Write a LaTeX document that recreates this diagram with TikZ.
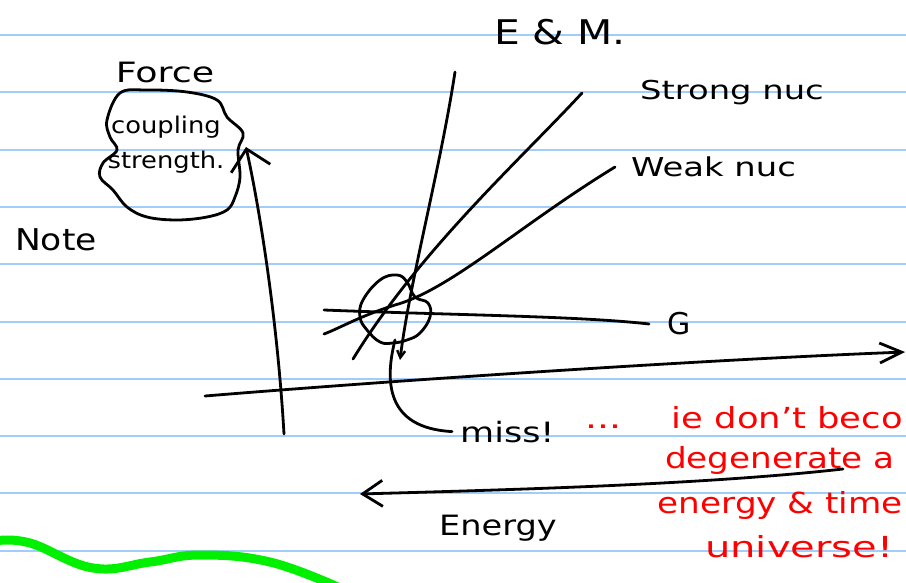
\documentclass[tikz,border=0pt]{standalone}
\usepackage{fontspec}
\setmainfont{DejaVu Sans}
\usetikzlibrary{arrows.meta, positioning}

\definecolor{rulecolor}{RGB}{160,205,250}
\definecolor{marker}{RGB}{0,240,0}
\definecolor{redink}{RGB}{255,0,0}

% handwriting is wider than the font
\newcommand{\handwide}[2][1.3]{\scalebox{#1}[1]{#2}}

\begin{document}
\begin{tikzpicture}[
  x=1pt, y=-1pt,
  ink/.style={line width=2.8pt, line cap=round, line join=round},
  rule/.style={draw=rulecolor, line width=2pt},
  hand/.style={inner sep=0pt, font=\fontsize{26}{30}\selectfont},
  redhand/.style={inner sep=0pt, anchor=base west, text=redink, font=\fontsize{29}{34}\selectfont},
  ]
  \useasboundingbox (0,0) rectangle (906,582);
  \fill[white] (0,0) rectangle (906,582);
  \clip (0,0) rectangle (906,582);

  % ruled paper
  \foreach \k in {0,...,9}
    \draw[rule] (0,{round(35+57.3*\k)}) -- (906,{round(35+57.3*\k)});

  % highlighter stroke
  \draw[marker, line width=9pt, line cap=round]
    plot[smooth, tension=0.7] coordinates {(-5,541) (30,543) (93,568) (150,562) (200,555) (270,562) (340,588)};

  % labels
  \node[hand, font=\fontsize{34}{38}\selectfont] (em) at (560,32) {\handwide[1.2]{E \& M.}};
  \node[hand, font=\fontsize{28}{32}\selectfont] (force) at (165,72) {\handwide{Force}};
  \node[hand, font=\fontsize{23}{27}\selectfont] (coupling) at (166,127) {\handwide[1.12]{coupling}};
  \node[hand, font=\fontsize{23}{27}\selectfont, below=12pt of coupling] (strength) {\handwide[1.12]{strength.}};
  \node[hand, font=\fontsize{30}{34}\selectfont] (note) at (56,240) {\handwide[1.15]{Note}};

  % cloud round coupling strength
  \draw[ink] plot[smooth cycle, tension=0.6] coordinates {
    (120,93) (147,90) (187,92) (217,100) (227,117) (243,133) (238,150)
    (240,177) (235,197) (227,210) (207,217) (177,220) (147,217) (127,207)
    (113,190) (100,177) (103,163) (117,150) (110,137) (107,120)};

  % axes
  \coordinate (ybot) at (284,434);
  \coordinate (ytop) at (246,147);
  \draw[ink, -{Straight Barb[length=20pt, width=40pt, line width=2.8pt]}]
    (ybot) .. controls (278,330) and (262,220) .. (ytop);
  \coordinate (xleft) at (205,396);
  \coordinate (xright) at (905,352);
  \draw[ink, -{Straight Barb[length=22pt, width=20pt, line width=2.8pt]}]
    (xleft) .. controls (400,380) and (700,360) .. (xright);

  % running couplings
  \coordinate (emtop) at (455,72);
  \coordinate (embot) at (400,360);
  \draw[ink, -{Straight Barb[length=7pt, width=8pt, line width=2.4pt]}]
    (emtop) .. controls (440,170) and (410,280) .. (embot);
  \coordinate (strongtop) at (582,93);
  \coordinate (strongbot) at (353,359);
  \draw[ink] (strongtop) .. controls (520,160) and (420,250) .. (strongbot);
  \coordinate (weaktop) at (615,167);
  \coordinate (weakbot) at (324,334);
  \draw[ink] (weaktop) .. controls (520,225) and (450,290) .. (395,305)
    .. controls (360,316) and (340,328) .. (weakbot);
  \coordinate (gleft) at (324,310);
  \coordinate (gright) at (649,324);
  \draw[ink] (gleft) .. controls (450,315) and (580,316) .. (gright);

  \node[hand, anchor=west, right=58pt of strongtop] (strong) {\handwide{Strong nuc}};
  \node[hand, anchor=west, right=16pt of weaktop] (weak) {\handwide{Weak nuc}};
  \node[hand, font=\fontsize{30}{34}\selectfont, right=18pt of gright] (g) {G};

  % meeting point
  \draw[ink] plot[smooth cycle, tension=0.7] coordinates {
    (363,300) (380,280) (397,275) (407,282) (415,297) (428,303) (430,317)
    (420,333) (407,340) (393,343) (380,342) (367,330) (360,317)};
  \coordinate (blobfoot) at (395,340);

  \node[hand, font=\fontsize{28}{32}\selectfont, anchor=base west] (miss) at (460,442) {\handwide[1.25]{miss!}};
  \draw[ink] (blobfoot) .. controls (385,380) and (385,428) .. ([xshift=-8pt]miss.west);

  % energy arrow
  \coordinate (eright) at (843,469);
  \coordinate (eleft) at (360,494);
  \draw[ink, -{Straight Barb[length=20pt, width=26pt, line width=2.8pt]}]
    (eright) .. controls (700,485) and (500,490) .. (eleft);
  \node[hand, font=\fontsize{28}{32}\selectfont] (energy) at (498,528) {\handwide[1.2]{Energy}};

  % remark
  \node[redhand] (dots) at (585,428) {\handwide{...}};
  \node[redhand, anchor=base east] (remarka) at (903,428) {\handwide[1.22]{ie don't beco}};
  \node[redhand] (remarkb) at (665,468) {\handwide[1.18]{degenerate a}};
  \node[redhand, anchor=base east] (remarkc) at (903,513) {\handwide[1.18]{energy \& time}};
  \node[redhand] (remarkd) at (705,557) {\handwide[1.38]{universe!}};
\end{tikzpicture}
\end{document}
